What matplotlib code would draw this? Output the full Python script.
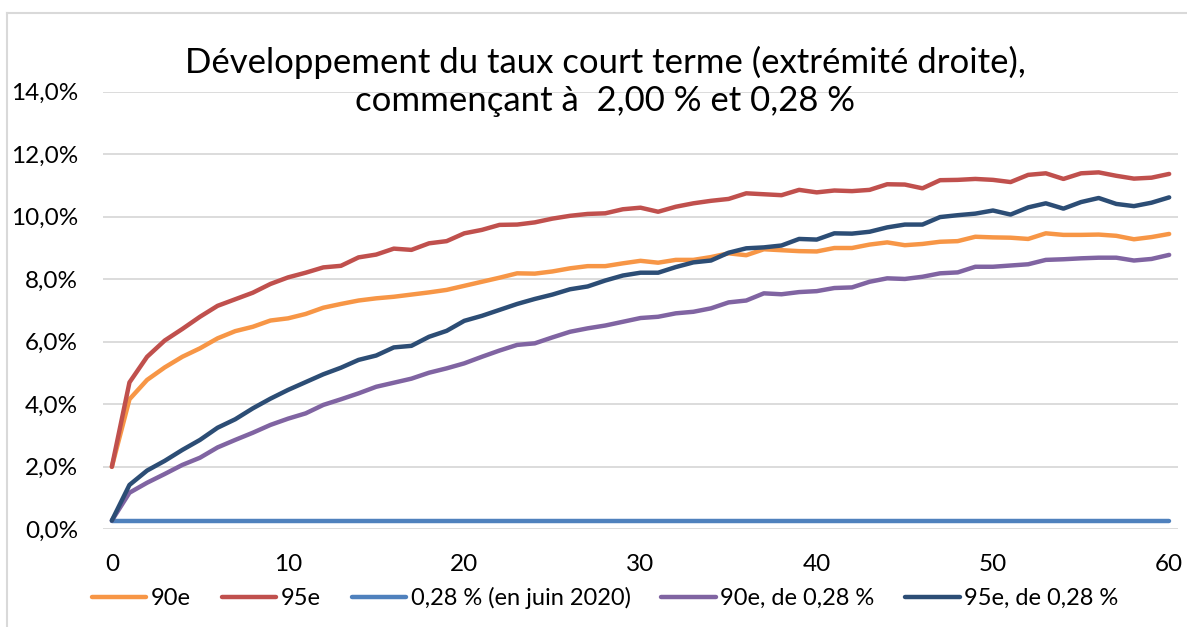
import numpy as np
import matplotlib
matplotlib.use('Agg')
import matplotlib.pyplot as plt
from matplotlib.ticker import FuncFormatter, MultipleLocator
from matplotlib.lines import Line2D

plt.rcParams['font.family'] = ['Lato', 'DejaVu Sans']

# horizon (x axis)
mois = np.arange(0, 61)

# 90e percentile, start 2,00 %
p90 = [2.00, 4.16, 4.78, 5.18, 5.52, 5.79, 6.11, 6.34, 6.48, 6.68,
       6.75, 6.89, 7.09, 7.21, 7.32, 7.39, 7.44, 7.51, 7.58, 7.66,
       7.79, 7.92, 8.05, 8.19, 8.18, 8.25, 8.35, 8.42, 8.42, 8.51,
       8.59, 8.53, 8.62, 8.62, 8.71, 8.83, 8.77, 8.96, 8.93, 8.90,
       8.89, 9.00, 9.00, 9.11, 9.18, 9.09, 9.13, 9.20, 9.22, 9.36,
       9.34, 9.33, 9.29, 9.47, 9.42, 9.42, 9.43, 9.39, 9.28, 9.35,
       9.45]

# 95e percentile, start 2,00 %
p95 = [2.00, 4.70, 5.52, 6.04, 6.41, 6.80, 7.15, 7.36, 7.57, 7.85,
       8.06, 8.21, 8.38, 8.43, 8.70, 8.79, 8.98, 8.94, 9.15, 9.22,
       9.47, 9.58, 9.74, 9.75, 9.82, 9.94, 10.03, 10.09, 10.11, 10.24,
       10.29, 10.16, 10.32, 10.43, 10.51, 10.57, 10.75, 10.72, 10.69, 10.86,
       10.78, 10.84, 10.82, 10.86, 11.04, 11.03, 10.91, 11.17, 11.18, 11.21,
       11.18, 11.11, 11.34, 11.39, 11.21, 11.39, 11.42, 11.31, 11.22, 11.25,
       11.37]

# flat rate june 2020
flat = [0.28] * 61

# 90e percentile, start 0,28 %
p90_028 = [0.28, 1.17, 1.49, 1.77, 2.06, 2.29, 2.62, 2.86, 3.09, 3.34,
           3.54, 3.71, 3.98, 4.16, 4.35, 4.56, 4.69, 4.82, 5.01, 5.15,
           5.31, 5.52, 5.72, 5.90, 5.95, 6.14, 6.32, 6.43, 6.52, 6.64,
           6.76, 6.80, 6.91, 6.96, 7.07, 7.26, 7.32, 7.55, 7.52, 7.59,
           7.62, 7.72, 7.74, 7.92, 8.03, 8.01, 8.08, 8.19, 8.22, 8.40,
           8.40, 8.44, 8.48, 8.62, 8.64, 8.67, 8.69, 8.69, 8.60, 8.65,
           8.78]

# 95e percentile, start 0,28 %
p95_028 = [0.28, 1.42, 1.88, 2.19, 2.54, 2.86, 3.25, 3.52, 3.87, 4.18,
           4.46, 4.71, 4.96, 5.17, 5.42, 5.56, 5.82, 5.87, 6.16, 6.35,
           6.67, 6.83, 7.02, 7.21, 7.37, 7.51, 7.68, 7.77, 7.96, 8.12,
           8.21, 8.21, 8.39, 8.54, 8.60, 8.85, 8.99, 9.02, 9.08, 9.29,
           9.27, 9.47, 9.46, 9.52, 9.66, 9.75, 9.75, 9.99, 10.05, 10.10,
           10.20, 10.07, 10.30, 10.43, 10.26, 10.47, 10.60, 10.41, 10.34, 10.45,
           10.62]

series = [
    (p90, '90e', '#F79646'),
    (p95, '95e', '#C0504D'),
    (flat, '0,28 % (en juin 2020)', '#4F81BD'),
    (p90_028, '90e, de 0,28 %', '#8064A2'),
    (p95_028, '95e, de 0,28 %', '#2C4D75'),
]

fig = plt.figure(figsize=(11.87, 6.27), dpi=100)
ax = fig.add_axes([0.0868, 0.1558, 0.9056, 0.6979])

for vals, lab, col in series:
    ax.plot(mois, np.array(vals) / 100, color=col, lw=3.2, label=lab,
            solid_capstyle='round', solid_joinstyle='round')

ax.set_xlim(-0.5, 60.5)
ax.set_ylim(0, 0.14)
ax.xaxis.set_major_locator(MultipleLocator(10))
ax.yaxis.set_major_locator(MultipleLocator(0.02))
ax.yaxis.set_major_formatter(FuncFormatter(lambda v, p: ('%.1f%%' % (v * 100)).replace('.', ',')))
ax.grid(axis='y', color='#d9d9d9', lw=1.3)
ax.set_axisbelow(True)
for s in ax.spines.values():
    s.set_visible(False)
ax.tick_params(length=0, labelsize=17.5, pad=18)

fig.text(0.51, 0.870, 'Développement du taux court terme (extrémité droite),\ncommençant à  2,00 % et 0,28 %',
         ha='center', va='center', fontsize=25, linespacing=1.2)

fig.legend(loc='center', bbox_to_anchor=(0.51, 0.046), ncol=5, frameon=False,
           fontsize=17, handlelength=2.3, handletextpad=0.2, columnspacing=1.3)

# chart border (only top and left visible)
fig.add_artist(Line2D([7 / 1187, 1], [1 - 13 / 627, 1 - 13 / 627], color='#d9d9d9', lw=1.5))
fig.add_artist(Line2D([7 / 1187, 7 / 1187], [0, 1 - 13 / 627], color='#d9d9d9', lw=1.5))

fig.savefig('out.png', dpi=100)
